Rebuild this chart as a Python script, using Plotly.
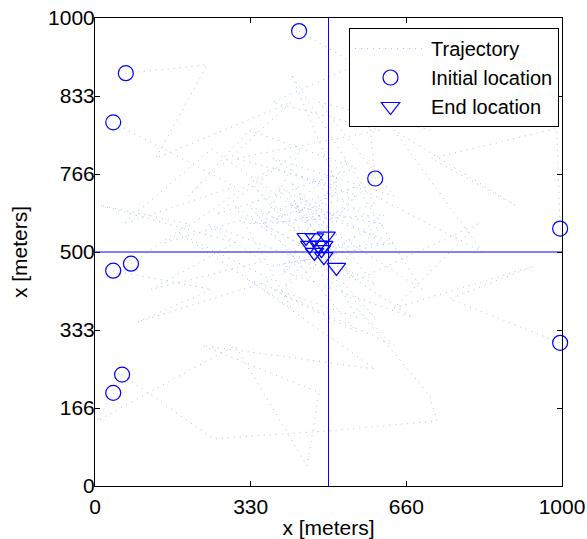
import plotly.graph_objects as go

# Initial locations (circles)
init_x = [437, 66, 39, 600, 996, 996, 39, 77, 58, 39]
init_y = [972, 882, 777, 657, 550, 306, 460, 475, 238, 199]

# End locations (triangles)
end_x = [452, 495, 478, 470, 490, 517, 460, 485, 470, 490]
end_y = [531, 534, 515, 499, 490, 467, 514, 505, 530, 514]

# Trajectory waypoints (read by eye), one list per node
traj_x = [
    [437, 560, 380, 610, 300, 520, 420, 600, 380, 540, 400, 560, 452],
    [66, 240, 130, 420, 200, 330, 560, 260, 440, 360, 600, 420, 495],
    [39, 300, 60, 250, 420, 150, 380, 560, 330, 620, 400, 478],
    [600, 570, 660, 720, 480, 640, 380, 610, 420, 560, 360, 470],
    [996, 989, 720, 900, 640, 830, 560, 700, 420, 640, 380, 490],
    [996, 760, 940, 640, 820, 560, 680, 400, 620, 517],
    [39, 250, 90, 380, 180, 420, 300, 600, 340, 560, 460],
    [77, 200, 10, 300, 120, 360, 240, 560, 390, 620, 485],
    [58, 253, 503, 732, 717, 560, 640, 380, 560, 330, 470],
    [39, 4, 300, 454, 480, 230, 600, 330, 560, 420, 490],
]
traj_y = [
    [972, 900, 820, 760, 700, 640, 880, 600, 560, 700, 450, 620, 531],
    [882, 900, 700, 820, 620, 760, 680, 580, 720, 560, 430, 650, 534],
    [777, 640, 560, 720, 600, 520, 680, 620, 560, 580, 420, 515],
    [657, 950, 900, 760, 820, 620, 700, 560, 600, 640, 560, 499],
    [550, 764, 700, 600, 760, 500, 640, 420, 600, 520, 470, 490],
    [306, 400, 470, 380, 560, 440, 360, 460, 560, 467],
    [460, 420, 350, 440, 540, 380, 600, 360, 640, 440, 514],
    [475, 560, 600, 520, 420, 480, 560, 440, 640, 520, 505],
    [238, 101, 118, 139, 193, 380, 300, 420, 330, 600, 530],
    [199, 139, 300, 43, 200, 300, 250, 440, 360, 620, 514],
]

x_tickvals = [0, 1000 / 3, 2000 / 3, 1000]
x_ticktext = ["0", "330", "660", "1000"]
y_tickvals = [0, 1000 / 6, 2000 / 6, 500, 4000 / 6, 5000 / 6, 1000]
y_ticktext = ["0", "166", "333", "500", "766", "833", "1000"]

center = 500
FONT = "Liberation Sans, Arial, Helvetica, sans-serif"
TRAJ_COLOR = "rgb(165,188,255)"

fig = go.Figure()
for i, (tx, ty) in enumerate(zip(traj_x, traj_y)):
    fig.add_trace(go.Scatter(
        x=tx, y=ty, mode="lines",
        line=dict(color=TRAJ_COLOR, width=1, dash="1px,5px"),
        name="Trajectory", showlegend=(i == 0), legendgroup="traj",
    ))

fig.add_trace(go.Scatter(x=[center, center], y=[0, 1000], mode="lines",
                         line=dict(color="#0000ff", width=1), showlegend=False, hoverinfo="skip"))
fig.add_trace(go.Scatter(x=[0, 1000], y=[center, center], mode="lines",
                         line=dict(color="#0000ff", width=1), showlegend=False, hoverinfo="skip"))

fig.add_trace(go.Scatter(
    x=init_x, y=init_y, mode="markers", name="Initial location",
    marker=dict(symbol="circle-open", size=15, color="#0000ff", line=dict(width=1.2, color="#0000ff")),
    cliponaxis=False,
))
fig.add_trace(go.Scatter(
    x=end_x, y=end_y, mode="markers", name="End location",
    marker=dict(symbol="triangle-down-open", size=16, color="#0000ff", line=dict(width=1.2, color="#0000ff")),
    cliponaxis=False,
))

axis_common = dict(
    range=[0, 1000], showgrid=False, zeroline=False, automargin=False,
    showline=True, linecolor="black", linewidth=1, mirror="ticks",
    ticks="inside", ticklen=5, tickcolor="black",
    tickfont=dict(family=FONT, size=21, color="black"),
)

fig.update_layout(
    width=587, height=539,
    margin=dict(l=95, r=25, t=18, b=53),
    paper_bgcolor="white", plot_bgcolor="white",
    font=dict(family=FONT, size=21, color="black"),
    xaxis=dict(**axis_common, tickvals=x_tickvals, ticktext=x_ticktext, ticklabelstandoff=2,
               title=dict(text="x [meters]", font=dict(family=FONT, size=21), standoff=8)),
    yaxis=dict(**axis_common, tickvals=y_tickvals, ticktext=y_ticktext, ticklabelstandoff=-5,
               title=dict(text="x [meters]", font=dict(family=FONT, size=21), standoff=14)),
    legend=dict(
        x=0.9936, y=0.9786, xanchor="right", yanchor="top",
        bgcolor="white", bordercolor="black", borderwidth=1,
        font=dict(family=FONT, size=20, color="black"),
        itemwidth=71, tracegroupgap=0,
    ),
    showlegend=True,
)

fig.write_html("out.html")
